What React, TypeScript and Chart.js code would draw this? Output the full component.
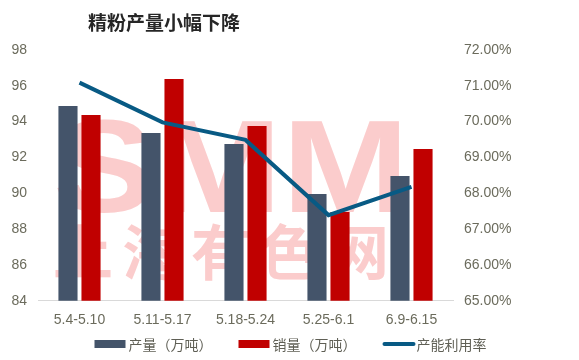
import React, { useEffect, useRef } from "react";
import { Chart, registerables } from "chart.js";

Chart.register(...registerables);

const categories = ["5.4-5.10", "5.11-5.17", "5.18-5.24", "5.25-6.1", "6.9-6.15"];
const production = [94.87, 93.36, 92.75, 89.96, 90.96];
const sales = [94.37, 96.38, 93.75, 88.95, 92.47];
const utilization = [71.09, 69.98, 69.49, 67.39, 68.18];
const seriesNames = ["产量（万吨）", "销量（万吨）", "产能利用率"];
const titleText = "精粉产量小幅下降";
const watermarkMain = "SMM";
const watermarkSub = ["上", "海", "有", "色", "网"];

const FONT = "'Noto Sans CJK SC', 'Noto Sans', sans-serif";
const TICK_FONT = "'Liberation Sans', 'Noto Sans CJK SC', sans-serif";
const TICK_COLOR = "#6b6b5c";
const LEGEND_COLOR = "#5f5f55";
const BAR1 = "#44546a";
const BAR2 = "#c00000";
const LINE = "#085a84";

const overlayPlugin = {
  id: "overlay",
  beforeDatasetsDraw(chart: any) {
    const ctx = chart.ctx;
    ctx.save();
    ctx.fillStyle = "#fbcccc";
    ctx.textBaseline = "alphabetic";
    ctx.textAlign = "left";
    ctx.font = `bold 131px 'Liberation Sans', Arial, sans-serif`;
    const w = ctx.measureText(watermarkMain).width;
    const targetW = 356;
    ctx.translate(53, 212);
    ctx.scale(targetW / w, 1);
    ctx.fillText(watermarkMain, 0, 0);
    ctx.restore();
    ctx.save();
    ctx.fillStyle = "#fbcccc";
    ctx.font = `bold 60px ${FONT}`;
    ctx.textAlign = "center";
    ctx.textBaseline = "middle";
    watermarkSub.forEach((c, i) => {
      ctx.fillText(c, 83 + i * 69, 252);
    });
    ctx.restore();
  },
  afterDraw(chart: any) {
    const ctx = chart.ctx;
    ctx.save();
    ctx.fillStyle = "#262626";
    ctx.font = `bold 19px ${FONT}`;
    ctx.textAlign = "center";
    ctx.textBaseline = "middle";
    ctx.fillText(titleText, 164, 23);

    // legend
    ctx.font = `14px ${FONT}`;
    const boxW = 31;
    const textGap = 3;
    const itemGap = 26;
    const widths = seriesNames.map((n) => boxW + textGap + ctx.measureText(n).width);
    const total = widths.reduce((a, b) => a + b, 0) + itemGap * (seriesNames.length - 1);
    let x = (chart.width - total) / 2 + 1;
    const cy = 344;
    const colors = [BAR1, BAR2, LINE];
    seriesNames.forEach((n, i) => {
      if (i < 2) {
        ctx.fillStyle = colors[i];
        ctx.fillRect(x, cy - 4, boxW, 8);
      } else {
        ctx.strokeStyle = colors[i];
        ctx.lineWidth = 4;
        ctx.lineCap = "round";
        ctx.beginPath();
        ctx.moveTo(x + 2, cy);
        ctx.lineTo(x + boxW, cy);
        ctx.stroke();
      }
      ctx.fillStyle = LEGEND_COLOR;
      ctx.textAlign = "left";
      ctx.textBaseline = "middle";
      ctx.fillText(n, x + boxW + textGap, cy + 1);
      x += widths[i] + itemGap;
    });
    ctx.restore();
  },
};

export default function App() {
  const ref = useRef<HTMLCanvasElement>(null);
  useEffect(() => {
    document.body.style.margin = "0";
    const chart = new Chart(ref.current!, {
      type: "bar",
      data: {
        labels: categories,
        datasets: [
          {
            label: seriesNames[0],
            data: production,
            backgroundColor: BAR1,
            yAxisID: "y",
            order: 1,
            categoryPercentage: 0.555,
            barPercentage: 0.83,
          } as any,
          {
            label: seriesNames[1],
            data: sales,
            backgroundColor: BAR2,
            yAxisID: "y",
            order: 1,
            categoryPercentage: 0.555,
            barPercentage: 0.83,
          },
          {
            type: "line",
            label: seriesNames[2],
            data: utilization,
            borderColor: LINE,
            backgroundColor: LINE,
            borderWidth: 4,
            pointRadius: 0,
            tension: 0,
            yAxisID: "y1",
            order: 0,
          },
        ],
      },
      options: {
        animation: false,
        responsive: false,
        maintainAspectRatio: false,
        layout: { padding: { top: 50, left: 0, right: 0, bottom: 31 } },
        plugins: {
          tooltip: { enabled: false },
          title: { display: false },
          legend: { display: false },
        },
        scales: {
          x: {
            grid: { display: false, drawTicks: false },
            border: { color: "#d9d9d9", width: 1 },
            ticks: { color: TICK_COLOR, font: { family: TICK_FONT, size: 14 }, padding: 11 },
            afterFit: (s: any) => {
              s.height = 28.3;
            },
          },
          y: {
            position: "left",
            min: 84,
            max: 98,
            grid: { display: false, drawTicks: false },
            border: { display: false },
            ticks: {
              stepSize: 2,
              color: TICK_COLOR,
              font: { family: TICK_FONT, size: 14 },
              padding: 11,
            },
            afterFit: (s: any) => {
              s.width = 38;
            },
          },
          y1: {
            position: "right",
            min: 65,
            max: 72,
            grid: { display: false, drawTicks: false },
            border: { display: false },
            ticks: {
              stepSize: 1,
              color: TICK_COLOR,
              font: { family: TICK_FONT, size: 14 },
              padding: 11,
              callback: (v: any) => Number(v).toFixed(2) + "%",
            },
            afterFit: (s: any) => {
              s.width = 126;
            },
          },
        },
      },
      plugins: [overlayPlugin],
    });
    return () => chart.destroy();
  }, []);
  return (
    <div style={{ width: 579, height: 360 }}>
      <canvas ref={ref} width={579} height={360} />
    </div>
  );
}
